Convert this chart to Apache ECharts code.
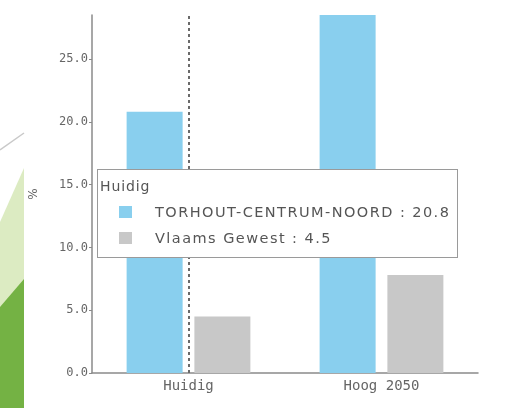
<!DOCTYPE html>
<html>
<head>
<meta charset="utf-8">
<script src="https://cdn.jsdelivr.net/npm/echarts@6/dist/echarts.min.js"></script>
<style>
  html, body { margin: 0; padding: 0; background: #ffffff; }
  #chart { width: 513px; height: 408px; }
</style>
</head>
<body>
<div id="chart"></div>
<script>
// Share of the population, current situation vs. 2050 high scenario
const categories = ['Huidig', 'Hoog 2050'];
const seriesNames = ['TORHOUT-CENTRUM-NOORD', 'Vlaams Gewest'];
const torhoutValues = [20.8, 28.5];
const vlaandersValues = [4.5, 7.8];
const yTicks = [0, 5, 10, 15, 20, 25];
const axisName = '%';

const colors = ['#89cfee', '#c8c8c8'];
const font = 'DejaVu Sans';
const monoFont = 'DejaVu Sans Mono';

const chart = echarts.init(document.getElementById('chart'), null, { renderer: 'canvas' });

chart.setOption({
  animation: false,
  backgroundColor: '#ffffff',
  textStyle: { fontFamily: font },
  grid: { left: 92, right: 35, top: 15, bottom: 35, containLabel: false },
  graphic: [
    // slide decoration on the left edge
    { type: 'polygon', silent: true, z: -1,
      shape: { points: [[24, 168], [24, 408], [0, 408], [0, 222]] },
      style: { fill: '#dcebc2' } },
    { type: 'polygon', silent: true, z: -1,
      shape: { points: [[24, 279], [24, 408], [0, 408], [0, 307]] },
      style: { fill: '#74b244' } },
    { type: 'line', silent: true, z: -1,
      shape: { x1: 0, y1: 150, x2: 24, y2: 133 },
      style: { stroke: '#c9c9c9', lineWidth: 1.5 } }
  ],
  tooltip: {
    trigger: 'axis',
    triggerOn: 'none',
    alwaysShowContent: true,
    transitionDuration: 0,
    position: [97, 169],
    padding: 0,
    borderWidth: 0,
    backgroundColor: 'transparent',
    extraCssText: 'box-shadow:none;',
    axisPointer: {
      type: 'line',
      lineStyle: { color: '#6a6a6a', width: 2, type: [3, 3] }
    },
    formatter: function (params) {
      let html = '<div style="box-sizing:border-box;width:361px;height:89px;background:#fff;' +
        'border:1px solid #9a9a9a;font-family:DejaVu Sans;color:#555;padding:6px 2px 0 2px;">';
      html += '<div style="font-size:14px;letter-spacing:0.9px;line-height:20px;height:26px;">' +
        params[0].axisValue + '</div>';
      params.forEach(function (p) {
        html += '<div style="font-size:14.5px;letter-spacing:1.45px;line-height:20px;height:26px;white-space:nowrap;">' +
          '<span style="display:inline-block;width:13px;height:12px;background:' + p.color +
          ';margin-left:19px;margin-right:23px;vertical-align:-1px;"></span>' +
          p.seriesName + ' : ' + p.value + '</div>';
      });
      html += '</div>';
      return html;
    }
  },
  xAxis: {
    type: 'category',
    data: categories,
    axisLine: { lineStyle: { color: '#8a8a8a', width: 1.5 } },
    axisTick: { show: false },
    axisLabel: { color: '#666', fontSize: 14, margin: 6, fontFamily: monoFont }
  },
  yAxis: {
    type: 'value',
    min: yTicks[0],
    max: 'dataMax',
    interval: yTicks[1] - yTicks[0],
    name: axisName,
    nameLocation: 'middle',
    nameGap: 52,
    nameRotate: 90,
    nameTextStyle: { color: '#666', fontSize: 12, fontFamily: font },
    axisLine: { show: true, lineStyle: { color: '#8a8a8a', width: 1.5 } },
    axisTick: { show: true, length: 3, lineStyle: { color: '#8a8a8a' } },
    splitLine: { show: false },
    axisLabel: {
      color: '#666', fontSize: 12, margin: 4, fontFamily: monoFont,
      showMaxLabel: false,
      formatter: function (v) { return yTicks.indexOf(v) >= 0 ? v.toFixed(1) : ''; }
    }
  },
  series: [
    { name: seriesNames[0], type: 'bar', data: torhoutValues, barWidth: 56, barGap: '21%',
      emphasis: { disabled: true }, itemStyle: { color: colors[0] } },
    { name: seriesNames[1], type: 'bar', data: vlaandersValues, barWidth: 56,
      emphasis: { disabled: true }, itemStyle: { color: colors[1] } }
  ]
});

chart.dispatchAction({ type: 'showTip', seriesIndex: 0, dataIndex: 0 });
</script>
</body>
</html>
